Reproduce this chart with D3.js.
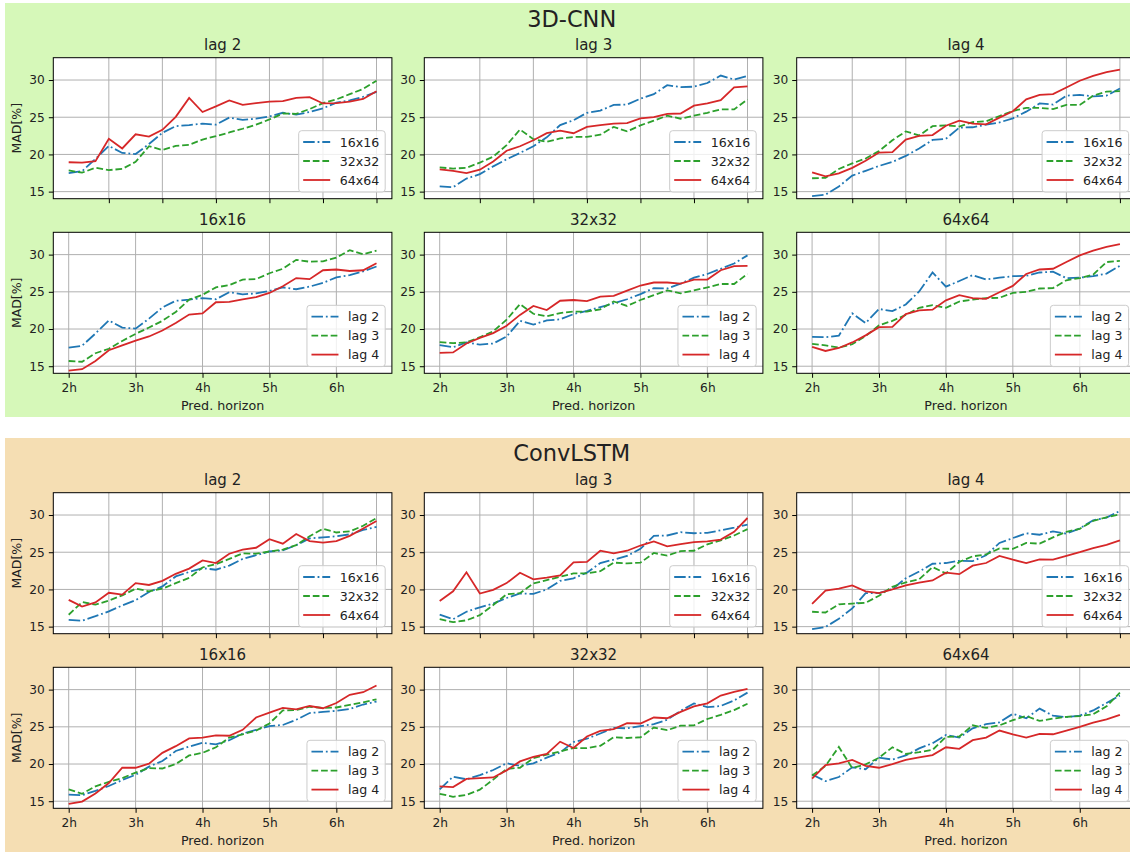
<!DOCTYPE html>
<html>
<head>
<meta charset="utf-8">
<script src="https://cdn.jsdelivr.net/npm/d3@7"></script>
<style>
body { margin: 0; background: #fff; }
text { font-family: "DejaVu Sans", sans-serif; fill: #222; }
</style>
</head>
<body>
<div id="chart"></div>
<script>
// x values (hours ahead) shared by every series
var horizons = [2.0, 2.2, 2.4, 2.6, 2.8, 3.0, 3.2, 3.4, 3.6, 3.8, 4.0, 4.2,
                4.4, 4.6, 4.8, 5.0, 5.2, 5.4, 5.6, 5.8, 6.0, 6.2, 6.4, 6.6];
var xTickHours = [2, 3, 4, 5, 6];
var xTickLabels = ["2h", "3h", "4h", "5h", "6h"];
var topTickHours = [2.6, 3.4, 4.2, 5.0, 5.8, 6.6];
var yTicks = [15, 20, 25, 30];

var models = ["3D-CNN", "ConvLSTM"];
var resolutions = ["16x16", "32x32", "64x64"];
var lags = ["lag 2", "lag 3", "lag 4"];

// 3D-CNN, MAD[%] per resolution and lag
var cnn16_l2 = [17.5, 17.75, 19.4, 21.15, 20.2, 20.05, 21.4, 22.9, 23.8, 23.95, 24.15, 24.0, 24.95, 24.65, 24.8, 25.1, 25.6, 25.35, 25.7, 26.2, 26.95, 27.25, 27.75, 28.4];
var cnn16_l3 = [15.7, 15.6, 16.75, 17.35, 18.4, 19.35, 20.2, 21.1, 22.3, 23.95, 24.6, 25.6, 25.9, 26.65, 26.7, 27.5, 28.1, 29.3, 29.05, 29.1, 29.6, 30.6, 30.05, 30.55];
var cnn16_l4 = [14.4, 14.6, 15.7, 17.15, 17.8, 18.45, 19.0, 19.8, 20.8, 21.95, 22.1, 23.6, 23.65, 24.0, 24.3, 24.85, 25.75, 26.85, 26.7, 27.9, 28.0, 27.8, 27.9, 28.85];
var cnn32_l2 = [17.85, 17.55, 18.2, 17.9, 18.05, 19.0, 21.1, 20.6, 21.15, 21.3, 22.0, 22.45, 22.95, 23.45, 24.0, 24.7, 25.5, 25.45, 26.1, 26.9, 27.4, 28.1, 28.8, 29.9];
var cnn32_l3 = [18.25, 18.1, 18.2, 18.9, 19.7, 21.25, 23.35, 22.05, 21.7, 22.15, 22.35, 22.35, 22.65, 23.7, 23.1, 23.9, 24.55, 25.2, 24.8, 25.2, 25.6, 26.05, 26.05, 27.4];
var cnn32_l4 = [16.8, 16.85, 18.05, 18.8, 19.45, 20.45, 21.9, 23.1, 22.55, 23.8, 23.9, 23.75, 24.35, 24.45, 25.15, 25.85, 26.25, 26.25, 26.1, 26.65, 26.65, 27.9, 28.45, 28.5];
var cnn64_l2 = [18.95, 18.9, 19.1, 22.1, 20.8, 22.7, 22.4, 23.3, 25.05, 27.6, 25.7, 26.45, 27.25, 26.65, 26.9, 27.1, 27.15, 27.6, 27.7, 26.85, 26.9, 27.1, 27.45, 28.5];
var cnn64_l3 = [18.0, 17.8, 17.5, 17.95, 19.05, 20.5, 21.1, 21.9, 22.85, 23.2, 22.85, 23.7, 23.95, 24.15, 24.2, 24.85, 25.0, 25.45, 25.5, 26.55, 26.85, 27.3, 29.0, 29.15];
var cnn64_l4 = [17.6, 17.05, 17.45, 18.2, 19.15, 20.25, 20.3, 22.0, 22.5, 22.6, 23.85, 24.55, 24.15, 24.05, 24.95, 25.8, 27.4, 28.0, 28.1, 29.0, 29.9, 30.55, 31.05, 31.4];

// ConvLSTM
var lstm16_l2 = [15.9, 15.8, 16.4, 17.05, 17.85, 18.55, 19.65, 20.4, 21.75, 22.35, 22.85, 22.65, 23.2, 24.1, 24.6, 25.1, 25.25, 25.95, 26.85, 27.0, 27.15, 27.4, 28.0, 28.4];
var lstm16_l3 = [16.6, 16.0, 17.0, 17.6, 18.1, 18.85, 19.45, 19.4, 20.0, 21.15, 21.5, 22.25, 23.55, 24.0, 24.5, 25.45, 27.2, 27.25, 27.7, 27.55, 27.6, 27.95, 28.3, 28.7];
var lstm16_l4 = [14.65, 14.95, 16.05, 17.45, 19.5, 19.5, 20.05, 21.5, 22.4, 23.45, 23.55, 23.85, 23.8, 24.6, 26.25, 26.9, 27.55, 27.35, 27.8, 27.5, 28.2, 29.3, 29.65, 30.55];
var lstm32_l2 = [16.6, 18.3, 17.95, 18.5, 19.2, 20.1, 19.75, 20.1, 20.85, 21.55, 22.95, 23.4, 24.1, 24.85, 24.8, 25.1, 25.35, 25.95, 27.15, 28.15, 27.65, 27.8, 28.55, 29.6];
var lstm32_l3 = [16.0, 15.6, 15.85, 16.55, 17.9, 19.35, 19.5, 20.8, 21.25, 21.7, 22.15, 22.15, 22.45, 23.6, 23.5, 23.6, 24.9, 24.55, 25.15, 25.2, 26.05, 26.6, 27.25, 28.1];
var lstm32_l4 = [17.0, 16.9, 18.0, 18.1, 18.2, 19.15, 20.35, 20.95, 21.35, 23.0, 22.15, 23.7, 24.45, 24.7, 25.5, 25.45, 26.25, 26.15, 27.0, 27.75, 28.15, 29.2, 29.7, 30.1];
var lstm64_l2 = [18.6, 17.7, 18.25, 19.55, 19.3, 20.85, 20.6, 21.15, 22.1, 22.8, 23.9, 23.55, 24.8, 25.35, 25.6, 26.75, 26.15, 27.45, 26.5, 26.3, 26.5, 27.2, 28.2, 29.2];
var lstm64_l3 = [18.45, 19.75, 22.3, 19.45, 19.95, 20.85, 22.25, 21.35, 21.6, 21.9, 23.65, 23.7, 25.2, 24.85, 25.2, 25.9, 26.45, 25.8, 26.1, 26.35, 26.45, 26.7, 27.75, 29.6];
var lstm64_l4 = [18.05, 19.85, 20.1, 20.55, 19.75, 19.5, 20.0, 20.55, 20.9, 21.2, 22.25, 22.05, 23.2, 23.55, 24.5, 24.0, 23.55, 24.05, 24.0, 24.5, 25.0, 25.55, 26.0, 26.6];

// table[model][resolution][lag]
var table = [
    [[cnn16_l2, cnn16_l3, cnn16_l4], [cnn32_l2, cnn32_l3, cnn32_l4], [cnn64_l2, cnn64_l3, cnn64_l4]],
    [[lstm16_l2, lstm16_l3, lstm16_l4], [lstm32_l2, lstm32_l3, lstm32_l4], [lstm64_l2, lstm64_l3, lstm64_l4]]
];

var seriesStyle = [
    {color: "#1f77b4", dash: "11.5,2.9,1.8,2.9"},
    {color: "#2ca02c", dash: "6.7,2.9"},
    {color: "#d62728", dash: null}
];

var svgWidth = 1130;
var svgHeight = 852;
var colX = [53.3, 424.3, 796.7];
var panelW = 338.6;
var panelH = 141;

var sections = [
    {bg: "#d6f8b9", top: 3, bottom: 417, titleY: 26.5, rows: [57.7, 232.3]},
    {bg: "#f5deb3", top: 438, bottom: 860, titleY: 461, rows: [492.7, 667.3]}
];

var svg = d3.select("#chart")
    .append("svg")
    .attr("width", svgWidth)
    .attr("height", svgHeight);

var x = d3.scaleLinear().domain([1.77, 6.83]).range([0, panelW]);
var y = d3.scaleLinear().domain([14.05, 33.0]).range([panelH, 0]);

var line = d3.line()
    .x((d, i) => x(horizons[i]))
    .y(d => y(d));

function drawPanel(g, title, seriesList, labels, isBottom, isLeft) {
    g.append("rect")
        .attr("width", panelW)
        .attr("height", panelH)
        .attr("fill", "#fff");

    // grid
    var vTicks = isBottom ? xTickHours : topTickHours;
    g.append("g").selectAll("line")
        .data(vTicks).enter().append("line")
        .attr("x1", d => x(d)).attr("x2", d => x(d))
        .attr("y1", 0).attr("y2", panelH)
        .attr("stroke", "#b0b0b0").attr("stroke-width", 1);
    g.append("g").selectAll("line")
        .data(yTicks).enter().append("line")
        .attr("x1", 0).attr("x2", panelW)
        .attr("y1", d => y(d)).attr("y2", d => y(d))
        .attr("stroke", "#b0b0b0").attr("stroke-width", 1);

    // lines
    seriesList.forEach(function(s, i) {
        g.append("path")
            .datum(s)
            .attr("d", line)
            .attr("fill", "none")
            .attr("stroke", seriesStyle[i].color)
            .attr("stroke-width", 1.8)
            .attr("stroke-dasharray", seriesStyle[i].dash);
    });

    // axes
    var bottomAxis = d3.axisBottom(x)
        .tickValues(vTicks)
        .tickSize(4.5)
        .tickSizeOuter(0)
        .tickPadding(5.5)
        .tickFormat(isBottom ? (d, i) => xTickLabels[i] : "");
    var leftAxis = d3.axisLeft(y)
        .tickValues(yTicks)
        .tickSize(4.5)
        .tickSizeOuter(0)
        .tickPadding(4);

    var xa = g.append("g")
        .attr("transform", `translate(0,${panelH})`)
        .call(bottomAxis);
    var ya = g.append("g").call(leftAxis);
    [xa, ya].forEach(function(a) {
        a.select(".domain").remove();
        a.selectAll("line").attr("stroke", "#000").attr("stroke-width", 1);
        a.selectAll("text").attr("font-size", "12.2px").attr("fill", "#222")
            .attr("font-family", "DejaVu Sans");
    });

    g.append("rect")
        .attr("width", panelW)
        .attr("height", panelH)
        .attr("fill", "none")
        .attr("stroke", "#000")
        .attr("stroke-width", 1);

    g.append("text")
        .attr("x", panelW / 2)
        .attr("y", -7.5)
        .attr("text-anchor", "middle")
        .attr("font-size", "15px")
        .text(title);

    if (isBottom) {
        g.append("text")
            .attr("x", panelW / 2)
            .attr("y", panelH + 37.2)
            .attr("text-anchor", "middle")
            .attr("font-size", "12.7px")
            .text("Pred. horizon");
    }
    if (isLeft) {
        g.append("text")
            .attr("transform", `translate(-32.5,${panelH / 2}) rotate(-90)`)
            .attr("text-anchor", "middle")
            .attr("font-size", "12.5px")
            .text("MAD[%]");
    }

    // legend, lower right
    var leg = g.append("g");
    var box = leg.append("rect")
        .attr("fill", "#fff")
        .attr("fill-opacity", 0.8)
        .attr("stroke", "#cccccc")
        .attr("stroke-width", 1)
        .attr("rx", 3);
    var maxW = 0;
    labels.forEach(function(lab, i) {
        var t = leg.append("text")
            .attr("x", 41)
            .attr("y", 11.3 + i * 19)
            .attr("dy", "0.36em")
            .attr("font-size", "12.6px")
            .text(lab);
        maxW = Math.max(maxW, t.node().getComputedTextLength());
        leg.append("line")
            .attr("x1", 4.5).attr("x2", 31.5)
            .attr("y1", 11.3 + i * 19).attr("y2", 11.3 + i * 19)
            .attr("stroke", seriesStyle[i].color)
            .attr("stroke-width", 1.8)
            .attr("stroke-dasharray", seriesStyle[i].dash);
    });
    var bw = maxW + 47, bh = 61.3;
    box.attr("width", bw).attr("height", bh);
    leg.attr("transform", `translate(${panelW - 6.7 - bw},${panelH - 6.7 - bh})`);
}

sections.forEach(function(sec, m) {
    svg.append("rect")
        .attr("x", 5)
        .attr("y", sec.top)
        .attr("width", svgWidth)
        .attr("height", sec.bottom - sec.top)
        .attr("fill", sec.bg);

    svg.append("text")
        .attr("x", 571.7)
        .attr("y", sec.titleY)
        .attr("text-anchor", "middle")
        .attr("font-size", "22.5px")
        .text(models[m]);

    for (var c = 0; c < 3; c++) {
        // top row: one lag, three resolutions
        var gTop = svg.append("g")
            .attr("transform", `translate(${colX[c]},${sec.rows[0]})`);
        drawPanel(gTop, lags[c],
            [table[m][0][c], table[m][1][c], table[m][2][c]],
            resolutions, false, c === 0);

        // bottom row: one resolution, three lags
        var gBot = svg.append("g")
            .attr("transform", `translate(${colX[c]},${sec.rows[1]})`);
        drawPanel(gBot, resolutions[c], table[m][c], lags, true, c === 0);
    }
});
</script>
</body>
</html>
